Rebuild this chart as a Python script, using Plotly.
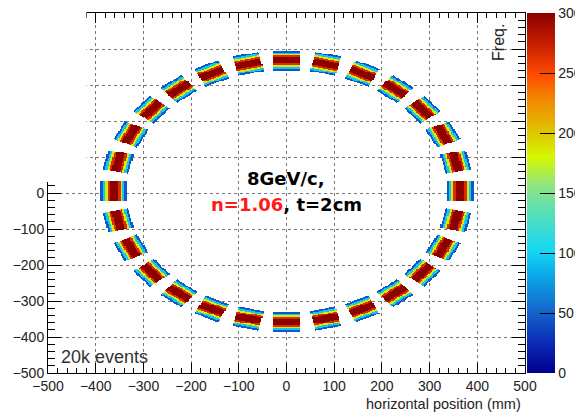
import numpy as np
import plotly.graph_objects as go

# ---------------- data ----------------
n_modules = 28                     # detector modules around the ring
ring_center_mm = (1.0, 5.0)        # ring centre (x, y)
ring_radius_mm = 363.0             # ring radius
module_half_mm = 27.5              # half side of a square module
# radial hit profile across a module (edges in mm relative to ring radius)
profile_edges_mm = [-27.5, -23, -18, -13.5, -9, -4.5, 0, 4.5, 9, 13.5, 18, 23, 27.5]
profile_counts = [45, 95, 185, 265, 300, 300, 300, 300, 265, 185, 95, 45]
bin_mm = 2.5
axis_ticks = list(range(-500, 501, 100))
cbar_ticks = [0, 50, 100, 150, 200, 250, 300]

# ---------------- build 2D histogram ----------------
centers = np.arange(-500 + bin_mm / 2, 500, bin_mm)
X, Y = np.meshgrid(centers, centers)
dx = X - ring_center_mm[0]
dy = Y - ring_center_mm[1]
phi = np.arctan2(dy, dx)
step = 2 * np.pi / n_modules
k = np.round((phi - np.pi / 2) / step)
ang = np.pi / 2 + k * step
u = dx * np.cos(ang) + dy * np.sin(ang) - ring_radius_mm
v = -dx * np.sin(ang) + dy * np.cos(ang)
inside = (np.abs(u) < module_half_mm) & (np.abs(v) < module_half_mm)
counts = np.array(profile_counts, dtype=float)
idx = np.clip(np.digitize(u, profile_edges_mm[1:-1]), 0, len(counts) - 1)
Z = np.where(inside, counts[idx], np.nan)

colorscale = [
    [0.00, "#00008c"],
    [0.08, "#0a28b4"],
    [0.17, "#1464cc"],
    [0.27, "#0aa8e8"],
    [0.34, "#14d8f4"],
    [0.45, "#5ce0b4"],
    [0.52, "#90e482"],
    [0.60, "#d4f800"],
    [0.67, "#e0c400"],
    [0.75, "#f09000"],
    [0.83, "#ff4a00"],
    [0.91, "#c82000"],
    [1.00, "#8c0000"],
]

fig = go.Figure()
fig.add_trace(go.Heatmap(
    x=centers, y=centers, z=Z,
    zmin=0, zmax=300, zsmooth=False,
    colorscale=colorscale,
    hoverinfo="skip",
    colorbar=dict(
        x=1.004, xanchor="left", xpad=0, ypad=0,
        y=0.5, yanchor="middle", len=1, lenmode="fraction",
        thickness=28, outlinewidth=0,
        tickvals=cbar_ticks, ticks="inside", ticklen=15,
        tickcolor="black", tickwidth=1,
        tickfont=dict(family="Liberation Sans", size=14, color="#222"),
    ),
))

font = "Liberation Sans"
common = dict(
    range=[-500, 500], tickvals=axis_ticks, showline=True, linecolor="black",
    linewidth=1, mirror="allticks", ticks="inside", tickcolor="black",
    showgrid=True, gridcolor="#777", griddash="dot", gridwidth=1,
    zeroline=False, tickfont=dict(family=font, size=14, color="#222"),
)
fig.update_xaxes(**common, ticklen=10,
                 minor=dict(dtick=20, ticks="inside", ticklen=5, tickcolor="black", showgrid=False))
fig.update_yaxes(**common, ticklen=13,
                 minor=dict(dtick=20, ticks="inside", ticklen=7, tickcolor="black", showgrid=False))

# white patch hiding the upper-left corner (as in the reference)
fig.add_shape(type="rect", xref="paper", yref="paper",
              x0=-0.2, x1=0.0805, y0=0.5306, y1=1.1,
              fillcolor="white", line=dict(width=0), layer="above")

fig.add_annotation(x=-1, y=40, xref="x", yref="y", text="<b>8GeV/c,</b>",
                   showarrow=False, font=dict(family="DejaVu Sans", size=18, color="black"))
fig.add_annotation(x=-1, y=-33, xref="x", yref="y",
                   text="<b><span style='color:#ff1a1a'>n=1.06</span>, t=2cm</b>",
                   showarrow=False, font=dict(family="DejaVu Sans", size=18, color="black"))
fig.add_annotation(x=0.023, y=0.044, xref="paper", yref="paper", text="20k events",
                   xanchor="left", yanchor="middle", showarrow=False,
                   font=dict(family=font, size=18, color="#333"))
fig.add_annotation(x=0.996, y=-0.086, xref="paper", yref="paper",
                   text="horizontal position (mm)", xanchor="right", yanchor="middle",
                   showarrow=False, font=dict(family=font, size=14.5, color="#222"))
fig.add_annotation(x=0.943, y=0.919, xref="paper", yref="paper", text="Freq.",
                   textangle=-90, showarrow=False, xanchor="center", yanchor="middle",
                   font=dict(family=font, size=16, color="#222"))

fig.update_layout(
    width=575, height=413,
    margin=dict(l=48, r=50, t=13, b=40, autoexpand=False),
    paper_bgcolor="white", plot_bgcolor="white",
    showlegend=False,
)
fig.write_html("out.html")
